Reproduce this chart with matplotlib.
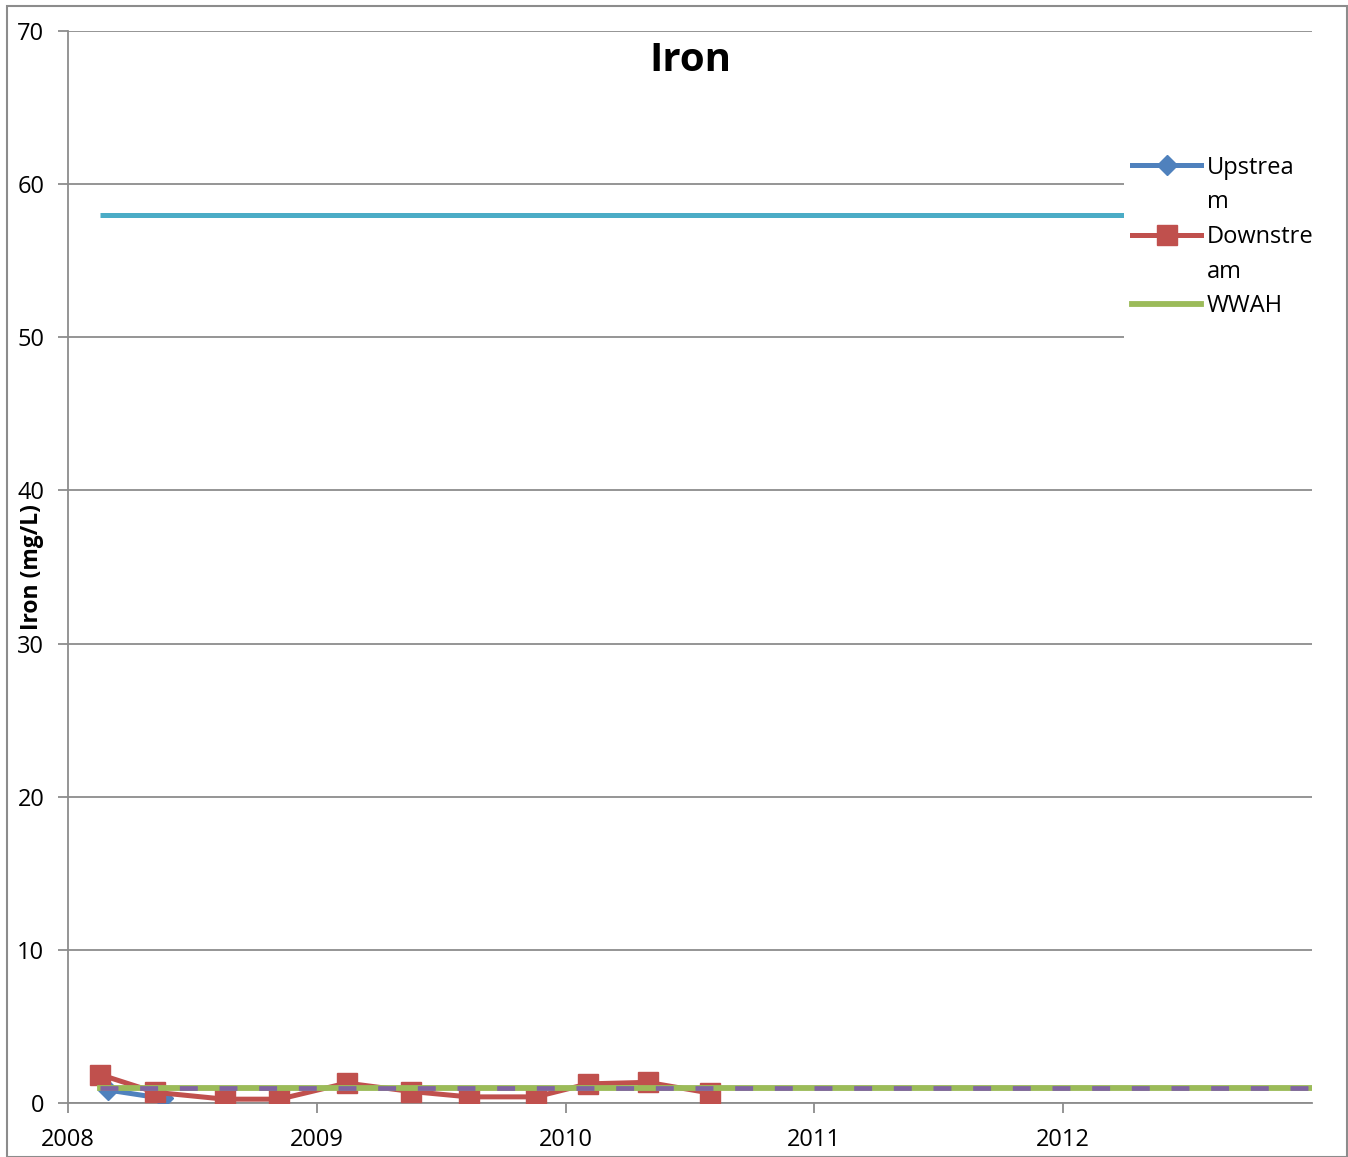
import matplotlib
matplotlib.use("Agg")
import matplotlib.pyplot as plt
from matplotlib.lines import Line2D
from matplotlib.patches import Rectangle

# data (x in decimal years)
up_x = [2008.16, 2008.38]
up_y = [0.85, 0.3]

down_x = [2008.13, 2008.35, 2008.63, 2008.85, 2009.12, 2009.38, 2009.61,
          2009.88, 2010.09, 2010.33, 2010.58]
down_y = [1.85, 0.7, 0.25, 0.25, 1.3, 0.75, 0.4, 0.4, 1.25, 1.35, 0.65]

wwah_x = [2008.13, 2013.0]
wwah_y = [1.0, 1.0]

limit_x = [2008.13, 2013.0]
limit_y = [58.0, 58.0]

year_ticks = [2008, 2009, 2010, 2011, 2012]
y_ticks = [0, 10, 20, 30, 40, 50, 60, 70]
# legend labels wrap like the original (handle sits on the first line);
# trailing blank row keeps the white legend box as tall as in the original
legend_rows = ['Upstrea', 'm', 'Downstre', 'am', 'WWAH', ' ']

plt.rcParams['font.family'] = ['Open Sans', 'DejaVu Sans']

fig = plt.figure(figsize=(13.48, 11.57), dpi=100)
ax = fig.add_axes([68 / 1348, 1 - 1103 / 1157, (1312 - 68) / 1348, (1103 - 31) / 1157])

grey = '#8c8c8c'
ax.plot(limit_x, limit_y, color='#4BACC6', lw=3.6, solid_capstyle='butt', zorder=3)
up_line, = ax.plot(up_x, up_y, color='#4F81BD', lw=3.6, marker='D', ms=10, zorder=4)
down_line, = ax.plot(down_x, down_y, color='#C0504D', lw=3.6, marker='s', ms=14, zorder=5)
wwah_line, = ax.plot(wwah_x, wwah_y, color='#9BBB59', lw=4.2, zorder=6)
ax.plot(wwah_x, wwah_y, color='#8064A2', lw=3.4, dashes=(3.8, 4.6), zorder=7)

ax.set_xlim(2008, 2013)
ax.set_ylim(0, 70)
ax.set_xticks(year_ticks)
ax.set_xticklabels([str(y) for y in year_ticks])
ax.set_yticks(y_ticks)
ax.grid(axis='y', color=grey, lw=1.3)
ax.set_axisbelow(True)
for side in ['top', 'right']:
    ax.spines[side].set_visible(False)
for side in ['left', 'bottom']:
    ax.spines[side].set_color(grey)
    ax.spines[side].set_linewidth(1.3)
ax.tick_params(axis='both', colors=grey, width=1.3, length=7, labelsize=17, labelcolor='black')
ax.tick_params(axis='y', pad=10)
ax.tick_params(axis='x', pad=11)

ax.set_title('Iron', fontsize=29, fontweight='bold', y=0.955)
ax.set_ylabel('Iron (mg/L)', fontsize=16.5, fontweight='bold')
ax.yaxis.set_label_coords(-0.019, 0.5)

blank = Line2D([], [], alpha=0)
leg = ax.legend([up_line, blank, down_line, blank, wwah_line, blank], legend_rows,
                loc='upper left', bbox_to_anchor=(0.8489, 0.8914), frameon=True,
                fontsize=17, handlelength=2.9, handletextpad=0.25,
                labelspacing=0.45, borderpad=0.35, borderaxespad=0)
leg.get_frame().set_facecolor('white')
leg.get_frame().set_edgecolor('none')
leg.get_frame().set_alpha(1)

# outer chart border
fig.patches.append(Rectangle((7 / 1348, 0), 1 - 8 / 1348, 1 - 6 / 1157,
                             transform=fig.transFigure, fill=False,
                             edgecolor=grey, lw=1.5))

fig.savefig('out.png', dpi=100)
